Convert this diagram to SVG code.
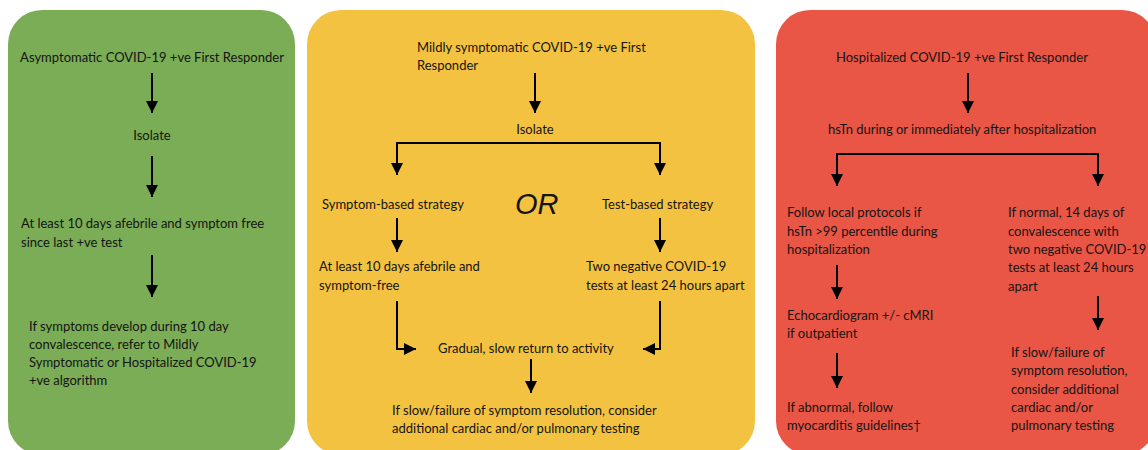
<svg xmlns="http://www.w3.org/2000/svg" width="1148" height="450" viewBox="0 0 1148 450">
<defs>
<style>
text{font-family:Lato,"Liberation Sans",sans-serif;font-size:13px;fill:#141414}
.c{text-anchor:middle}
.or{font-family:"Liberation Sans",sans-serif;font-style:italic;font-size:29px}
.ln{fill:none;stroke:#000;stroke-width:2;marker-end:url(#ah)}
</style>
<marker id="ah" viewBox="0 0 12 12" refX="12" refY="6" markerWidth="12" markerHeight="12" markerUnits="userSpaceOnUse" orient="auto">
<path d="M0,0 L12,6 L0,12 z" fill="#000"/>
</marker>
</defs>
<rect width="1148" height="450" fill="#fff"/>
<g id="panel-green">
<rect x="8" y="10" width="287" height="445" rx="34" fill="#7bac56"/>
<text class="c" x="152" y="62">Asymptomatic COVID-19 +ve First Responder</text>
<text class="c" x="152" y="140">Isolate</text>
<text x="21" y="228">At least 10 days afebrile and symptom free</text>
<text x="21" y="247">since last +ve test</text>
<text x="29" y="331">If symptoms develop during 10 day</text>
<text x="29" y="349">convalescence, refer to Mildly</text>
<text x="29" y="367">Symptomatic or Hospitalized COVID-19</text>
<text x="29" y="385">+ve algorithm</text>
</g>
<g id="panel-yellow">
<rect x="307" y="10" width="448" height="445" rx="34" fill="#f3c241"/>
<text x="417" y="52">Mildly symptomatic COVID-19 +ve First</text>
<text x="417" y="70">Responder</text>
<text class="c" x="535" y="134">Isolate</text>
<text x="322" y="209">Symptom-based strategy</text>
<text class="or" x="515" y="214">OR</text>
<text x="602" y="209">Test-based strategy</text>
<text x="319" y="271">At least 10 days afebrile and</text>
<text x="319" y="290">symptom-free</text>
<text x="586" y="271">Two negative COVID-19</text>
<text x="586" y="290">tests at least 24 hours apart</text>
<text x="438" y="353">Gradual, slow return to activity</text>
<text x="392" y="415">If slow/failure of symptom resolution, consider</text>
<text x="392" y="433">additional cardiac and/or pulmonary testing</text>
</g>
<g id="panel-red">
<rect x="776" y="10" width="380" height="445" rx="34" fill="#e95646"/>
<text x="836" y="62">Hospitalized COVID-19 +ve First Responder</text>
<text x="828" y="134">hsTn during or immediately after hospitalization</text>
<text x="787" y="217">Follow local protocols if</text>
<text x="787" y="236">hsTn &gt;99 percentile during</text>
<text x="787" y="254">hospitalization</text>
<text x="787" y="320">Echocardiogram +/- cMRI</text>
<text x="787" y="338">if outpatient</text>
<text x="787" y="412">If abnormal, follow</text>
<text x="787" y="430">myocarditis guidelines†</text>
<text x="1008" y="217">If normal, 14 days of</text>
<text x="1008" y="236">convalescence with</text>
<text x="1008" y="254">two negative COVID-19</text>
<text x="1008" y="272">tests at least 24 hours</text>
<text x="1008" y="291">apart</text>
<text x="1011" y="357">If slow/failure of</text>
<text x="1011" y="375">symptom resolution,</text>
<text x="1011" y="394">consider additional</text>
<text x="1011" y="412">cardiac and/or</text>
<text x="1011" y="430">pulmonary testing</text>
</g>
<g id="connectors">
<path class="ln" d="M152,73 V113"/>
<path class="ln" d="M152,156 V197"/>
<path class="ln" d="M152,255 V297"/>
<path class="ln" d="M535,73 V113"/>
<path class="ln" d="M530,143 H397 V175"/>
<path class="ln" d="M530,143 H660 V175"/>
<path class="ln" d="M397,218 V252"/>
<path class="ln" d="M660,218 V252"/>
<path class="ln" d="M397,301 V349 H416"/>
<path class="ln" d="M660,301 V349 H643"/>
<path class="ln" d="M531,359 V393"/>
<path class="ln" d="M968,73 V113"/>
<path class="ln" d="M968,154 H837 V186"/>
<path class="ln" d="M968,154 H1098 V186"/>
<path class="ln" d="M837,265 V299"/>
<path class="ln" d="M837,353 V388"/>
<path class="ln" d="M1098,296 V330"/>
</g>
</svg>
